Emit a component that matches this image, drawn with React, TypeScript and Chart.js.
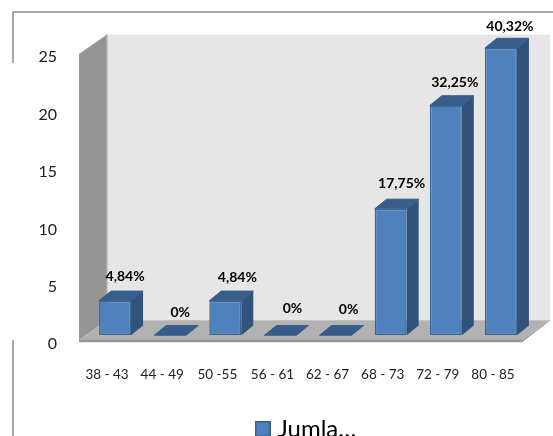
import React, { useEffect, useRef } from "react";
import { Chart, registerables } from "chart.js";

Chart.register(...registerables);

const categories = ["38 - 43", "44 - 49", "50 -55", "56 - 61", "62 - 67", "68 - 73", "72 - 79", "80 - 85"];
const counts = [3, 0, 3, 0, 0, 11, 20, 25];
const percentLabels = ["4,84%", "0%", "4,84%", "0%", "0%", "17,75%", "32,25%", "40,32%"];
const seriesName = "Jumla…";

// Small per-label shifts so the value captions sit clear of the bar tops.
const captionShiftX = [10, 10, 12, 12, 13, 11, 9, 9];
const captionShiftY = [-24, -23, -23, -27, -26, -25, -23, -22];

const FONT = "Lato, Carlito, sans-serif";
const BAR_DX = 12;
const BAR_DY = -9.7;

function poly(ctx: CanvasRenderingContext2D, pts: number[][], fill: string, stroke?: string) {
  ctx.beginPath();
  pts.forEach(([x, y], i) => (i ? ctx.lineTo(x, y) : ctx.moveTo(x, y)));
  ctx.closePath();
  ctx.fillStyle = fill;
  ctx.fill();
  if (stroke) {
    ctx.strokeStyle = stroke;
    ctx.lineWidth = 1;
    ctx.stroke();
  }
}

// Square legend swatch, so the text can sit closer to it than the default gap.
function legendSwatch() {
  const c = document.createElement("canvas");
  c.width = 16;
  c.height = 16;
  const g = c.getContext("2d")!;
  g.fillStyle = "#4f81bd";
  g.fillRect(0, 0, 16, 16);
  g.strokeStyle = "#385d8a";
  g.lineWidth = 1.5;
  g.strokeRect(0.75, 0.75, 14.5, 14.5);
  return c;
}

// Outer frame fragments around the plot.
const framePlugin = {
  id: "frame",
  beforeDraw(chart: any) {
    const ctx = chart.ctx as CanvasRenderingContext2D;
    ctx.save();
    ctx.strokeStyle = "#8c8c8c";
    ctx.lineWidth = 1.5;
    ctx.beginPath();
    ctx.moveTo(13, 63);
    ctx.lineTo(13, 12);
    ctx.lineTo(chart.width, 12);
    ctx.moveTo(13, 340);
    ctx.lineTo(13, chart.height);
    ctx.stroke();
    ctx.restore();
  },
};

// Back wall, side wall and floor of the box, then the depth faces of each bar.
const boxPlugin = {
  id: "box3d",
  beforeDatasetsDraw(chart: any) {
    const ctx = chart.ctx as CanvasRenderingContext2D;
    const { left, right, top, bottom } = chart.chartArea;
    const frontL = left - 8.5;
    const backL = left + 19.5;
    const frontR = right - 6.5;
    const backR = right + 21.5;
    const wallTop = top - 13.5;
    const frontTop = top + 6;
    const floorBack = bottom - 15;
    const floorFront = bottom + 5;
    ctx.save();
    poly(ctx, [[backL, wallTop], [backR, wallTop], [backR, floorBack], [backL, floorBack]], "#e6e6e6");
    poly(ctx, [[frontL, frontTop], [backL, wallTop], [backL, floorBack], [frontL, floorFront]], "#959595");
    ctx.fillStyle = "#a9a9a9";
    ctx.fillRect(backL - 1, wallTop, 1.5, floorBack - wallTop);
    poly(ctx, [[frontL, floorFront], [backL, floorBack], [backR, floorBack], [frontR, floorFront]], "#b2b2b2");
    ctx.fillStyle = "#969696";
    ctx.fillRect(frontL, floorFront - 0.5, frontR - frontL, 2.5);
    poly(ctx, [[frontR, floorFront + 2], [frontR, floorFront], [backR, floorBack], [backR, floorBack + 0.5]], "#969696");

    chart.getDatasetMeta(0).data.forEach((bar: any) => {
      const x0 = bar.x - bar.width / 2;
      const x1 = bar.x + bar.width / 2;
      if (bar.base - bar.y > 0.5) {
        poly(ctx, [[x1, bar.y], [x1 + BAR_DX, bar.y + BAR_DY], [x1 + BAR_DX, bar.base + BAR_DY], [x1, bar.base]], "#31527a");
      }
      poly(ctx, [[x0, bar.y], [x0 + BAR_DX, bar.y + BAR_DY], [x1 + BAR_DX, bar.y + BAR_DY], [x1, bar.y]], "#385d8a", "#385d8a");
    });
    ctx.restore();
  },
  afterDatasetsDraw(chart: any) {
    const ctx = chart.ctx as CanvasRenderingContext2D;
    ctx.save();
    ctx.font = `bold 14px ${FONT}`;
    ctx.fillStyle = "#000";
    ctx.textAlign = "center";
    ctx.textBaseline = "middle";
    chart.getDatasetMeta(0).data.forEach((bar: any, i: number) => {
      ctx.fillText(percentLabels[i], bar.x + captionShiftX[i], bar.y + captionShiftY[i]);
    });
    ctx.restore();
  },
};

export default function App() {
  const ref = useRef<HTMLCanvasElement>(null);
  useEffect(() => {
    const chart = new Chart(ref.current!, {
      type: "bar",
      data: {
        labels: categories,
        datasets: [
          {
            label: seriesName,
            data: counts,
            backgroundColor: "#4f81bd",
            borderColor: "#3a6595",
            borderWidth: 1.5,
            borderSkipped: false,
            barPercentage: 0.58,
            categoryPercentage: 1,
            pointStyle: legendSwatch(),
          },
        ],
      },
      options: {
        responsive: false,
        animation: false,
        layout: { padding: { top: 48, right: 24.5, bottom: -15, left: 0 } },
        plugins: {
          tooltip: { enabled: false },
          legend: {
            position: "bottom",
            fullSize: false,
            labels: {
              usePointStyle: true,
              pointStyleWidth: 6,
              padding: 6,
              color: "#000",
              font: { family: FONT, size: 24 },
            },
          },
        },
        scales: {
          x: {
            grid: { display: false, drawTicks: false },
            border: { display: false },
            ticks: {
              maxRotation: 0,
              autoSkip: false,
              padding: 31,
              labelOffset: -8,
              color: "#222",
              font: { family: FONT, size: 13.5 },
            },
            afterFit(scale: any) {
              scale.height = 75.75;
              scale.paddingLeft = 0;
              scale.paddingRight = 0;
            },
          },
          y: {
            min: 0,
            max: 25,
            grid: { display: false, drawTicks: false },
            border: { display: false },
            ticks: {
              stepSize: 5,
              padding: 30.5,
              labelOffset: 9,
              color: "#222",
              font: { family: FONT, size: 16 },
            },
            afterFit(scale: any) {
              scale.width = 87.5;
            },
          },
        },
      },
      plugins: [framePlugin, boxPlugin],
    });
    return () => chart.destroy();
  }, []);
  return (
    <canvas
      ref={ref}
      width={553}
      height={436}
      style={{ position: "absolute", left: 0, top: 0, display: "block", background: "#fff" }}
    />
  );
}
